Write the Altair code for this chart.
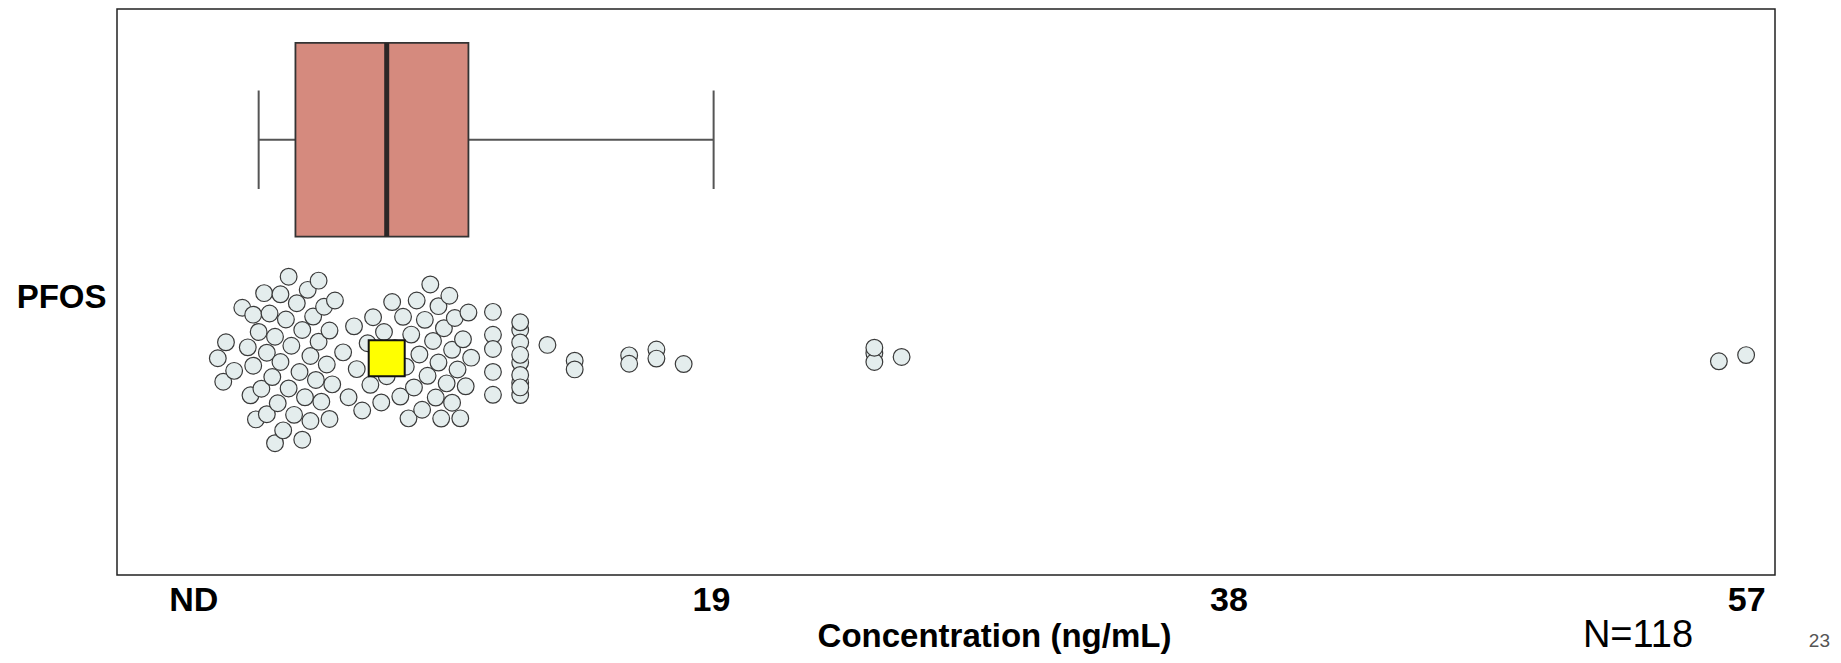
import altair as alt
import numpy as np
import pandas as pd

# ---------------- data ----------------
category = "PFOS"
# individual concentrations (ng/mL), main cluster
main_values = [0.9, 1.1, 1.2, 1.5, 1.8,
               2.0, 2.1, 2.2, 2.2, 2.3, 2.4, 2.5,
               2.6, 2.7, 2.7, 2.8, 2.9, 3.0, 3.0, 3.1, 3.2, 3.2, 3.3, 3.4, 3.5, 3.5, 3.6, 3.7, 3.8, 3.9,
               4.0, 4.0, 4.1, 4.2, 4.3, 4.3, 4.4, 4.5, 4.6, 4.6, 4.7, 4.8, 4.9, 5.0, 5.0, 5.1, 5.2,
               5.5, 5.7, 5.9, 6.0, 6.2, 6.4, 6.5, 6.6, 6.8, 6.9, 7.0, 7.1,
               7.3, 7.4, 7.6, 7.7, 7.8, 7.9, 8.0, 8.1, 8.2, 8.3, 8.4, 8.5,
               8.6, 8.7, 8.8, 8.9, 9.0, 9.0, 9.1, 9.2, 9.3, 9.4, 9.5, 9.5, 9.6, 9.7, 9.8, 9.9, 10.0, 10.1, 10.2]
# higher concentrations (stacked columns and outliers)
upper_values = [11, 11, 11, 11, 11,
                12, 12, 12, 12, 12, 12, 12, 12, 12,
                13, 14, 14, 16, 16, 17, 17, 18,
                25, 25, 25, 26, 56, 57]
# box-plot summary: lower whisker, Q1, median, Q3, upper whisker
box_low, box_q1, box_median, box_q3, box_high = 2.4, 3.75, 7.1, 10.1, 19.1
mean_value = 7.1
tick_values = [0, 19, 38, 57]
tick_labels = ["ND", "19", "38", "57"]
x_title = "Concentration (ng/mL)"
n_label = "N=118"
page_number = "23"

# ---------------- layout (lanes in y-scale units) ----------------
Y_DOMAIN = [0, 10]
LANE_BOX = 7.69
BOX_HALF = 1.71
CAP_HALF = 0.87
LANE_PTS = 3.83
LABEL_Y = 4.91
SINA_HALF = 1.6

values = np.array(main_values + upper_values, dtype=float)
n = len(values)
# sina-style layout: spread proportional to local density, deterministic
bw = 0.9
dens = np.array([np.exp(-0.5 * ((v - values) / bw) ** 2).sum() for v in values])
w = dens / dens.max()
order = np.argsort(values, kind="stable")
u = np.empty(n)
golden = 0.6180339887498949
for rank, idx in enumerate(order):
    u[idx] = 2 * ((rank * golden + 0.5) % 1.0) - 1
ypos = LANE_PTS + w * u * SINA_HALF

pts = pd.DataFrame({"value": values, "y": ypos, "group": category})
box = pd.DataFrame([{"low": box_low, "q1": box_q1, "median": box_median,
                     "q3": box_q3, "high": box_high}])
mean_df = pd.DataFrame({"mean": [mean_value]})
txt = pd.DataFrame({"n": [n_label], "page": [page_number]})

FONT = "Liberation Sans"
x_scale = alt.Scale(domain=[-2.8, 58.06], nice=False, zero=False)
y_scale = alt.Scale(domain=Y_DOMAIN, nice=False, zero=False)

expr = "''"
for tv, tl in reversed(list(zip(tick_values, tick_labels))):
    expr = f"datum.value == {tv} ? '{tl}' : ({expr})"

x_axis = alt.Axis(values=tick_values, labelExpr=expr, ticks=False, domain=False, grid=False,
                  labelFontSize=34, labelFontWeight="bold", labelFont=FONT, labelColor="black",
                  labelPadding=8, labelFlush=False, labelOverlap=False,
                  title=x_title, titleFontSize=33, titleFontWeight="bold", titleFont=FONT,
                  titleColor="black", titleX=877, titleY=71, titleAlign="center",
                  titleBaseline="alphabetic")
y_axis = alt.Axis(values=[LABEL_Y], labelExpr=f"'{category}'", ticks=False, domain=False,
                  grid=False, labelFontSize=33, labelFontWeight="bold", labelFont=FONT,
                  labelColor="black", labelPadding=11, title=None)

whisker = alt.Chart(box).mark_rule(color="#555555", strokeWidth=2).encode(
    x=alt.X("low:Q", scale=x_scale, axis=x_axis, title=x_title),
    x2="high:Q",
    y=alt.YDatum(LANE_BOX, scale=y_scale),
)
cap_lo = alt.Chart(box).mark_rule(color="#555555", strokeWidth=2).encode(
    x=alt.X("low:Q", scale=x_scale, axis=x_axis, title=x_title),
    y=alt.YDatum(LANE_BOX - CAP_HALF, scale=y_scale),
    y2=alt.Y2Datum(LANE_BOX + CAP_HALF),
)
cap_hi = alt.Chart(box).mark_rule(color="#555555", strokeWidth=2).encode(
    x=alt.X("high:Q", scale=x_scale, axis=x_axis, title=x_title),
    y=alt.YDatum(LANE_BOX - CAP_HALF, scale=y_scale),
    y2=alt.Y2Datum(LANE_BOX + CAP_HALF),
)
rect = alt.Chart(box).mark_rect(fill="#d58a7e", stroke="#333333", strokeWidth=1.8).encode(
    x=alt.X("q1:Q", scale=x_scale, axis=x_axis, title=x_title),
    x2="q3:Q",
    y=alt.YDatum(LANE_BOX - BOX_HALF, scale=y_scale),
    y2=alt.Y2Datum(LANE_BOX + BOX_HALF),
)
med = alt.Chart(box).mark_rule(color="#2b2626", strokeWidth=5).encode(
    x=alt.X("median:Q", scale=x_scale, axis=x_axis, title=x_title),
    y=alt.YDatum(LANE_BOX - BOX_HALF, scale=y_scale),
    y2=alt.Y2Datum(LANE_BOX + BOX_HALF),
)
points = alt.Chart(pts).mark_circle(size=280, fill="#e4eded", stroke="#3a3a3a",
                                    strokeWidth=1.2, opacity=1).encode(
    x=alt.X("value:Q", scale=x_scale, axis=x_axis, title=x_title),
    y=alt.Y("y:Q", scale=y_scale, axis=y_axis),
)
mean_mark = alt.Chart(mean_df).mark_square(size=1296, fill="#ffff00", stroke="#111111",
                                           strokeWidth=2, opacity=1).encode(
    x=alt.X("mean:Q", scale=x_scale, axis=x_axis, title=x_title),
    y=alt.YDatum(LANE_PTS, scale=y_scale),
)
n_text = alt.Chart(txt).mark_text(font=FONT, fontSize=38, color="black", align="center",
                                  baseline="alphabetic").encode(
    x=alt.value(1521), y=alt.value(638), text="n:N")
p_text = alt.Chart(txt).mark_text(font=FONT, fontSize=19, color="#555555", align="right",
                                  baseline="alphabetic").encode(
    x=alt.value(1713), y=alt.value(638), text="page:N")

chart = alt.layer(whisker, cap_lo, cap_hi, rect, med, points, mean_mark, n_text, p_text).properties(
    width=1658, height=566,
    autosize=alt.AutoSizeParams(type="none"),
    padding={"left": 109, "top": 1, "right": 58, "bottom": 80},
    background="white",
).configure_view(stroke="#222222", strokeWidth=1.5)

chart.save("out.html", embed_options={"renderer": "svg", "actions": False})
